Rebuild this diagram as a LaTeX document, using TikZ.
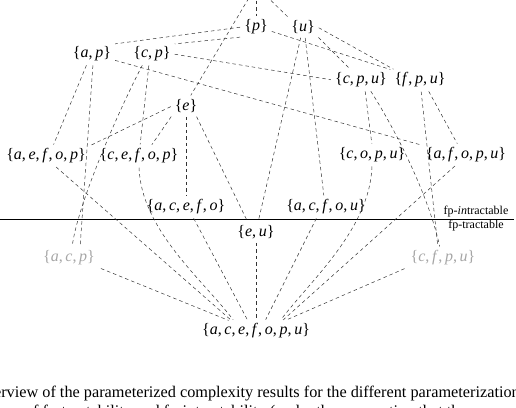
\documentclass[tikz,border=0pt]{standalone}
\usepackage{fontspec}
\setmainfont{Liberation Serif}
\newcommand\pset[1]{\{\psetaux#1,\relax\}}
\def\psetaux#1,#2\relax{\textit{#1}\ifx\relax#2\relax\else,\,\psetaux#2\relax\fi}
\tikzset{
  setnode/.style={inner sep=2.5pt, font=\fontsize{16}{18}\selectfont},
  grayset/.style={setnode, text=black!35},
  hasse/.style={draw=black!80, line width=0.5pt, dash pattern=on 3.5pt off 3pt, shorten <=1.5pt, shorten >=1.5pt},
  sepline/.style={draw=black, line width=0.9pt},
  small/.style={inner sep=0pt, font=\fontsize{12}{14}\selectfont},
  captext/.style={inner sep=0pt, anchor=base west, font=\fontsize{16.26}{19}\selectfont}
}
\begin{document}
\begin{tikzpicture}[x=1pt,y=-1pt]
\useasboundingbox (0,0) rectangle (516,407);
\clip (0,0) rectangle (516,407);
% nodes
\coordinate (top) at (256,-14);
\node[setnode] (p) at (256,27) {\pset{p}};
\node[setnode] (u) at (303,27) {\pset{u}};
\node[setnode] (ap) at (92,54) {\pset{a,p}};
\node[setnode] (cp) at (152,54) {\pset{c,p}};
\node[setnode] (cpu) at (361,80) {\pset{c,p,u}};
\node[setnode] (fpu) at (420,80) {\pset{f,p,u}};
\node[setnode] (e) at (186,106) {\pset{e}};
\node[setnode] (aefop) at (46,156) {\pset{a,e,f,o,p}};
\node[setnode] (cefop) at (139,156) {\pset{c,e,f,o,p}};
\node[setnode] (copu) at (372,155) {\pset{c,o,p,u}};
\node[setnode] (afopu) at (466,155) {\pset{a,f,o,p,u}};
\node[setnode] (acefo) at (186,207) {\pset{a,c,e,f,o}};
\node[setnode] (acfou) at (326,207) {\pset{a,c,f,o,u}};
\node[setnode] (eu) at (256,232) {\pset{e,u}};
\node[grayset] (acp) at (69,258) {\pset{a,c,p}};
\node[grayset] (cfpu) at (443,258) {\pset{c,f,p,u}};
\node[setnode] (full) at (256,331) {\pset{a,c,e,f,o,p,u}};
% separator
\coordinate (L) at (0,219);
\coordinate (R) at (514,219);
\draw[sepline] (L) -- (R);
\node[small] (intr) at (476,212) {fp-\textit{in}tractable};
\node[small] (tr) at (476,226) {fp-tractable};
% edges from the top
\draw[hasse] (top) -- (p.north);
\draw[hasse] (top) -- (u.north west);
\draw[hasse] (top) -- ([xshift=4pt]e.north);
% {p}
\draw[hasse] (p.west) -- (ap.north east);
\draw[hasse] (p.south west) -- (cp.north east);
\draw[hasse] ([yshift=-4pt]p.east) -- (fpu.north west);
% {u}
\draw[hasse] (u.south east) -- ([xshift=-10pt]cpu.north);
\draw[hasse] (u.east) -- ([xshift=3pt]fpu.north west);
\draw[hasse] ([xshift=-2pt]u.south) -- ([xshift=2pt]eu.north);
\draw[hasse] ([xshift=2pt]u.south) -- ([xshift=-2pt]acfou.north);
% {a,p}
\draw[hasse] ([xshift=-5pt]ap.south) -- ([xshift=7pt]aefop.north);
\draw[hasse] ([xshift=1pt]ap.south) -- ([xshift=11pt]acp.north);
\draw[hasse] ([yshift=-6pt]ap.east) -- ([xshift=-2pt]afopu.north west);
% {c,p}
\draw[hasse] (cp.east) -- (cpu.west);
\draw[hasse] ([xshift=-3pt]cp.south) -- ([xshift=1pt]cefop.north);
\draw[hasse] ([xshift=-9pt]cp.south) .. controls ([xshift=-35pt,yshift=-50pt]cp.south) and ([xshift=8pt,yshift=42pt]acp.north) .. ([xshift=3pt]acp.north);
% {e}
\draw[hasse] (e.west) -- ([xshift=1pt]aefop.north east);
\draw[hasse] (e.south west) -- ([xshift=12pt]cefop.north);
\draw[hasse] (e.south) -- (acefo.north);
\draw[hasse] ([xshift=-4pt]e.south east) -- ([xshift=-8pt]eu.north);
% {c,p,u}, {f,p,u}
\draw[hasse] ([xshift=4pt]cpu.south) -- (copu.north);
\draw[hasse] ([xshift=9pt]cpu.south) .. controls ([xshift=42pt,yshift=-52pt]cpu.south) and ([xshift=-12pt,yshift=43pt]cfpu.north) .. ([xshift=-3pt]cfpu.north);
\draw[hasse] ([xshift=8pt]fpu.south) -- ([xshift=-8pt]afopu.north);
\draw[hasse] ([xshift=1pt]fpu.south) -- ([xshift=-5pt]cfpu.north);
% into the full set
\draw[hasse] ([xshift=2pt]acp.south east) -- ([xshift=-26pt]full.north);
\draw[hasse] ([xshift=9pt]aefop.south) -- ([xshift=-24pt]full.north);
\draw[hasse] (cefop.south) .. controls ([xshift=2pt,yshift=-64pt]cefop.south) and ([xshift=-52pt,yshift=40pt]full.north) .. ([xshift=-22pt]full.north);
\draw[hasse] ([xshift=7pt]acefo.south) -- ([xshift=-8pt]full.north);
\draw[hasse] (eu.south) -- (full.north);
\draw[hasse] ([xshift=-9pt]acfou.south) -- ([xshift=9pt]full.north);
\draw[hasse] (copu.south) .. controls ([xshift=-2pt,yshift=-64pt]copu.south) and ([xshift=54pt,yshift=40pt]full.north) .. ([xshift=24pt]full.north);
\draw[hasse] ([xshift=-10pt]afopu.south) -- ([xshift=26pt]full.north);
\draw[hasse] ([xshift=-2pt]cfpu.south west) -- ([xshift=28pt]full.north);
% caption (cropped)
\node[captext] (cap1) at (-26,397) {Overview of the parameterized complexity results for the different parameterizations};
\node[captext] (cap2) at (-32,416) {in terms of fp-tractability and fp-intractability (under the assumption that the};
\end{tikzpicture}
\end{document}
